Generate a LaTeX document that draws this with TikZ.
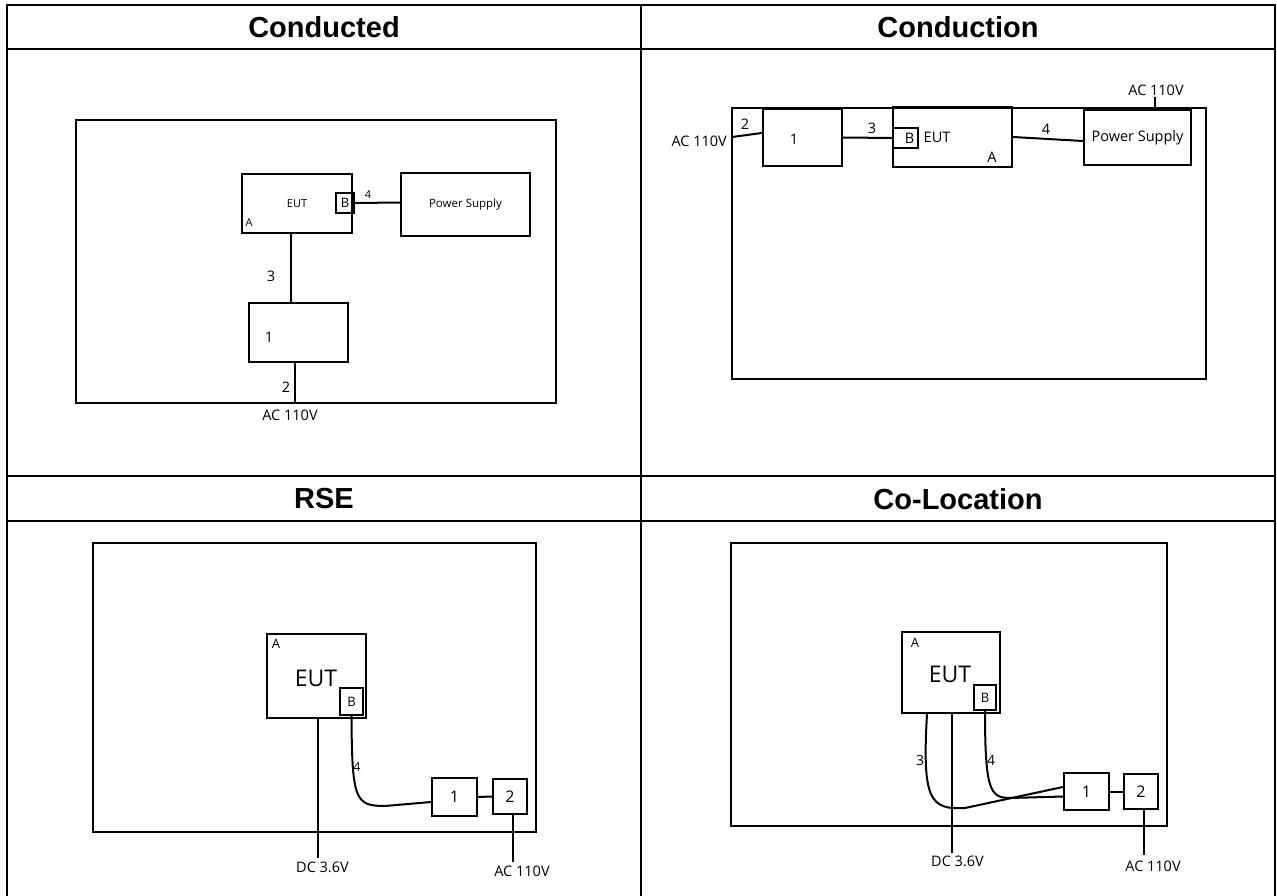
\documentclass[tikz,border=0pt]{standalone}
\usepackage{fontspec}
\setmainfont{Open Sans}
\newfontfamily\headfont{Liberation Sans}
\usetikzlibrary{positioning,calc}

\begin{document}
\begin{tikzpicture}[
  x=1pt, y=-1pt,
  font=\fontsize{14.5}{16}\selectfont,
  grid/.style={line width=2pt},
  head/.style={font=\headfont\bfseries\fontsize{29}{32}\selectfont},
  frame/.style={draw, line width=2.4pt, inner sep=0pt},
  box/.style={draw, line width=2.2pt, inner sep=0pt},
  port/.style={draw, line width=2.2pt, inner sep=0pt},
  cable/.style={line width=2pt},
  tag/.style={inner sep=0pt},
  small/.style={font=\fontsize{11}{12}\selectfont},
  digit/.style={font=\fontsize{16}{17}\selectfont}
]
\useasboundingbox (0,0) rectangle (1277,896);

% table
\draw[grid] (7,900) -- (7,5) -- (1275,5) -- (1275,900);
\draw[grid] (641,5) -- (641,900);
\draw[grid] (7,49) -- (1275,49);
\draw[grid] (7,476) -- (1275,476);
\draw[grid] (7,521) -- (1275,521);

\node[head] (hconducted) at (324,27) {Conducted};
\node[head] (hconduction) at (958,27) {Conduction};
\node[head] (hrse) at (324,499) {RSE};
\node[head] (hcoloc) at (958,499) {Co-Location};

% conducted
\node[frame, minimum width=480pt, minimum height=283pt] (frame1) at (316,261.5) {};
\node[box, small, minimum width=110pt, minimum height=59pt] (eut1) at (297,203.5) {EUT};
\node[port, minimum width=18pt, minimum height=20pt, font=\fontsize{13}{14}\selectfont] (b1) at (345,203) {B};
\node[box, minimum width=129pt, minimum height=63pt, font=\fontsize{11.5}{12}\selectfont] (psu1) at (465.5,204.5) {Power Supply};
\node[box, minimum width=99pt, minimum height=59pt] (one1) at (298.5,332.5) {};
\node[tag] (one1t) at (269,337) {1};
\node[tag, small] (a1) at (249,223) {A};
\coordinate (ac1) at (295,403);

\draw[cable] (b1.east) -- ([yshift=2pt]psu1.west);
\draw[cable] ([xshift=-8pt]one1.north) -- ([xshift=-8pt]one1.north |- eut1.south);
\draw[cable] (one1.south -| ac1) -- (ac1);
\node[tag, small] (n4a) at (368,195) {4};
\node[tag] (n3a) at (271,276) {3};
\node[tag] (n2a) at (286,387) {2};
\node[tag] (ac1l) at (290,415) {AC 110V};

% conduction
\node[frame, minimum width=474pt, minimum height=271pt] (frame2) at (969,243.5) {};
\node[box, minimum width=79pt, minimum height=57pt] (one2) at (802.5,137.5) {};
\node[tag] (one2t) at (794,139) {1};
\node[box, minimum width=119pt, minimum height=60pt] (eut2) at (952.5,137) {};
\node[tag] (eut2t) at (937,137) {EUT};
\node[tag] (a2) at (992,157) {A};
\node[port, minimum width=25pt, minimum height=20pt] (b2) at (905.5,138) {\hspace{8pt}B};
\node[box, minimum width=107pt, minimum height=55pt] (psu2) at (1137.5,137.5) {Power Supply};
\coordinate (ac2in) at (732,137);
\coordinate (ac2top) at (1155,97);

\draw[cable] (ac2in) -- ([yshift=4.5pt]one2.west);
\draw[cable] (one2.east) -- (b2.west);
\draw[cable] (eut2.east) -- ([yshift=-3.5pt]psu2.west);
\draw[cable] (psu2.north -| ac2top) -- (ac2top);
\node[tag, anchor=east] (ac2l) at (727,141) {AC 110V};
\node[tag] (n2b) at (745,124) {2};
\node[tag] (n3b) at (872,128) {3};
\node[tag] (n4b) at (1046,129) {4};
\node[tag] (ac2tl) at (1156,90) {AC 110V};

% rse
\node[frame, minimum width=443pt, minimum height=289pt] (frame3) at (314.5,687.5) {};
\node[box, minimum width=99pt, minimum height=84pt] (eut3) at (316.5,676) {};
\node[tag, font=\fontsize{23}{24}\selectfont] (eut3t) at (316,678) {EUT};
\node[tag, font=\fontsize{13}{14}\selectfont] (a3) at (276,644) {A};
\node[port, minimum width=23pt, minimum height=27pt, font=\fontsize{13}{14}\selectfont] (b3) at (351.5,701.5) {B};
\node[box, digit, minimum width=45pt, minimum height=38pt] (one3) at (454.5,797) {1};
\node[box, digit, minimum width=34pt, minimum height=35pt] (two3) at (510,796.5) {2};
\coordinate (dc3) at (318,858);
\coordinate (ac3) at (513,862);

\draw[cable] (eut3.south -| dc3) -- (dc3);
\draw[cable] (b3.south) .. controls (352,800) and (355,806) .. (385,806) -- ([yshift=-5pt]one3.west);
\draw[cable] (one3.east) -- (two3.west);
\draw[cable] (two3.south -| ac3) -- (ac3);
\node[tag, font=\fontsize{12.5}{13}\selectfont] (n4c) at (357,767) {4};
\node[tag] (dc3l) at (322.5,867) {DC 3.6V};
\node[tag] (ac3l) at (522,871) {AC 110V};

% co-location
\node[frame, minimum width=436pt, minimum height=283pt] (frame4) at (949,684.5) {};
\node[box, minimum width=98pt, minimum height=81pt] (eut4) at (951,672.5) {};
\node[tag, font=\fontsize{23}{24}\selectfont] (eut4t) at (950,674) {EUT};
\node[tag, font=\fontsize{13}{14}\selectfont] (a4) at (915,643) {A};
\node[port, minimum width=22pt, minimum height=25pt, font=\fontsize{13}{14}\selectfont] (b4) at (985,697.5) {B};
\node[box, digit, minimum width=45pt, minimum height=37pt] (one4) at (1086.5,791.5) {1};
\node[box, digit, minimum width=34pt, minimum height=35pt] (two4) at (1141,791.5) {2};
\coordinate (dc4) at (952,853);
\coordinate (ac4) at (1144,855);

\draw[cable] (eut4.south -| dc4) -- (dc4);
\draw[cable] ([xshift=-24pt]eut4.south) .. controls (922,800) and (930,810) .. (965,808) -- ([yshift=4.5pt]one4.west);
\draw[cable] (b4.south) .. controls (985,790) and (990,798) .. (1010,798) -- ([yshift=-5pt]one4.west);
\draw[cable] (one4.east) -- (two4.west);
\draw[cable] (two4.south -| ac4) -- (ac4);
\node[tag, font=\fontsize{14}{15}\selectfont] (n3d) at (920,760) {3};
\node[tag, font=\fontsize{14}{15}\selectfont] (n4d) at (991,760) {4};
\node[tag] (dc4l) at (957.5,861) {DC 3.6V};
\node[tag] (ac4l) at (1153,866) {AC 110V};
\end{tikzpicture}
\end{document}
